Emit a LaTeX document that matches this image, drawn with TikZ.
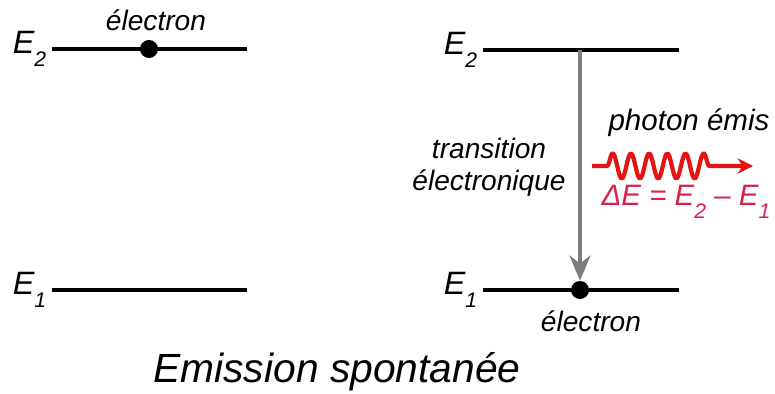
\documentclass[tikz,border=0pt]{standalone}
\usepackage{fontspec}
\setmainfont{Liberation Sans}
\usetikzlibrary{arrows.meta,positioning,decorations.pathmorphing}
\definecolor{lvlK}{RGB}{0,0,0}
\definecolor{trGray}{RGB}{125,125,125}
\definecolor{phRed}{RGB}{228,20,20}
\definecolor{dePink}{RGB}{215,35,75}
\newcommand{\lvsub}[1]{\raisebox{-0.42em}{\fontsize{15}{15}\selectfont #1}}

\begin{document}
\begin{tikzpicture}[x=0.025cm,y=-0.025cm,font=\itshape]
  \tikzset{lvl/.style={draw=lvlK,line width=2.8pt},
    elec/.style={circle,fill=lvlK,inner sep=0pt,minimum size=0.45cm},
    lvlab/.style={font=\fontsize{23}{26}\selectfont\itshape,inner sep=0pt},
    txt/.style={font=\fontsize{20}{24}\selectfont\itshape,align=center,inner sep=0pt}}
  \useasboundingbox (0,0) rectangle (775,394);
  % left: electron on the upper level
  \coordinate (l2a) at (52,49);
  \coordinate (l2b) at (247,49);
  \coordinate (l1a) at (52,290);
  \coordinate (l1b) at (247,290);
  \draw[lvl] (l2a) -- (l2b);
  \draw[lvl] (l1a) -- (l1b);
  \node[lvlab,left=4pt of l2a] (ltE2) {E\lvsub{2}};
  \node[lvlab,left=4pt of l1a] (ltE1) {E\lvsub{1}};
  \node[elec] (eup) at (149,49) {};
  \node[txt] (elup) at (156,20) {électron};
  % right: transition down to the lower level
  \coordinate (r2a) at (483,50);
  \coordinate (r2b) at (679,50);
  \coordinate (r1a) at (483,290);
  \coordinate (r1b) at (679,290);
  \draw[lvl] (r2a) -- (r2b);
  \draw[lvl] (r1a) -- (r1b);
  \node[lvlab,left=4pt of r2a] (rtE2) {E\lvsub{2}};
  \node[lvlab,left=4pt of r1a] (rtE1) {E\lvsub{1}};
  \node[elec] (edown) at (580,290) {};
  \node[txt] (eldown) at (591,321) {électron};
  \coordinate (trtop) at (580,50);
  \draw[-{Stealth[length=18pt,width=15pt]},trGray,line width=2.3pt] (trtop) -- (edown.north);
  \node[txt] (trlab) at (489,167) {transition\\[-1pt]électronique};
  % photon
  \coordinate (wva) at (592,166);
  \coordinate (wvb) at (753,166);
  \draw[phRed,line width=3pt,line join=round,-{Stealth[length=11pt,width=11pt]},decorate,
    decoration={snake,segment length=0.455cm,amplitude=9pt,pre length=0.375cm,post length=0.9cm}] (wva) -- (wvb);
  \node[txt,font=\fontsize{21}{25}\selectfont\itshape] (phlab) at (689,123) {photon émis};
  \node[txt,text=dePink,font=\fontsize{21}{25}\selectfont\itshape] (delab) at (686,202) {ΔE = E\lvsub{2} – E\lvsub{1}};
  \node[txt,font=\fontsize{29}{34}\selectfont\itshape] (title) at (337,372) {Emission spontanée};
\end{tikzpicture}
\end{document}
